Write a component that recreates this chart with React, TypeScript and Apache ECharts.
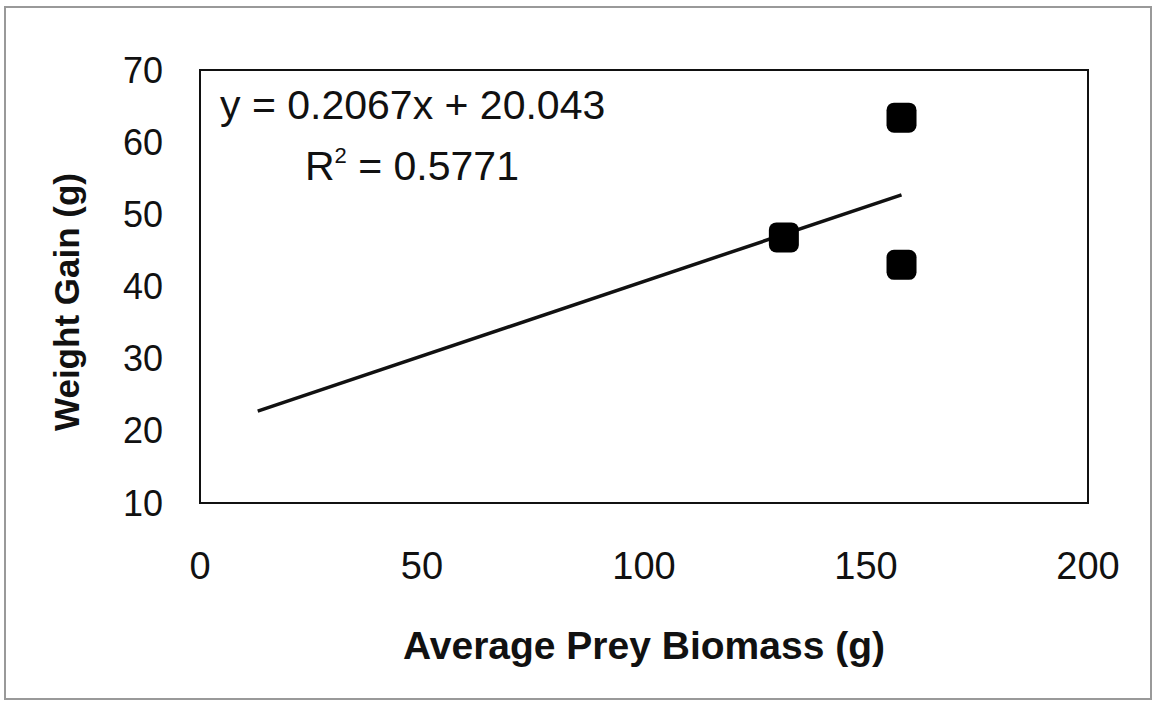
import React, { useEffect, useRef } from "react";
import * as echarts from "echarts";

const points: [number, number][] = [
  [131.5, 46.8],
  [158, 63.4],
  [158, 43.0],
];
const trendSlope = 0.2067;
const trendIntercept = 20.043;
const trendXRange = [13, 158];
const xTicks = { min: 0, max: 200, interval: 50 };
const yTicks = { min: 10, max: 70, interval: 10 };
const xTitle = "Average Prey Biomass (g)";
const yTitle = "Weight Gain (g)";
const equationText = "y = 0.2067x + 20.043";
const r2Text = "R{sup|2} = 0.5771";

export default function App() {
  const ref = useRef<HTMLDivElement>(null);
  useEffect(() => {
    if (!ref.current) return;
    const chart = echarts.init(ref.current, null, { renderer: "svg" });
    const trend = trendXRange.map((x) => [x, trendIntercept + trendSlope * x]);
    const font = "'Liberation Sans', Arial, sans-serif";
    chart.setOption({
      animation: false,
      backgroundColor: "#ffffff",
      grid: { left: 200, top: 70, width: 888, height: 433, show: true, borderColor: "#111", borderWidth: 2, backgroundColor: "transparent" },
      xAxis: {
        type: "value",
        min: xTicks.min,
        max: xTicks.max,
        interval: xTicks.interval,
        name: xTitle,
        nameLocation: "middle",
        nameGap: 123,
        nameTextStyle: { fontFamily: font, fontSize: 39, fontWeight: "bold", color: "#111" },
        axisLine: { show: false },
        axisTick: { show: false },
        splitLine: { show: false },
        axisLabel: { fontFamily: font, fontSize: 38, color: "#111", margin: 44 },
      },
      yAxis: {
        type: "value",
        min: yTicks.min,
        max: yTicks.max,
        interval: yTicks.interval,
        axisLine: { show: false },
        axisTick: { show: false },
        splitLine: { show: false },
        axisLabel: { fontFamily: font, fontSize: 36, color: "#111", margin: 37 },
      },
      graphic: [
        {
          type: "rect",
          shape: { x: 5, y: 7, width: 1146, height: 692 },
          style: { fill: "none", stroke: "#999", lineWidth: 2 },
          silent: true,
        },
        {
          type: "text",
          x: 66,
          y: 302,
          rotation: Math.PI / 2,
          style: {
            text: yTitle,
            font: `bold 35px ${font}`,
            fill: "#111",
            align: "center",
            verticalAlign: "middle",
          },
        },
        {
          type: "text",
          left: 220,
          top: 84,
          style: { text: equationText, font: `41px ${font}`, fill: "#111" },
        },
        {
          type: "text",
          left: 305,
          top: 144,
          style: {
            text: r2Text,
            font: `41px ${font}`,
            fill: "#111",
            rich: { sup: { fontSize: 22, verticalAlign: "top", padding: [0, 0, 22, 0], fontFamily: font, fill: "#111" } },
          } as any,
        },
      ],
      series: [
        {
          type: "line",
          data: trend,
          showSymbol: false,
          symbol: "none",
          lineStyle: { color: "#111", width: 3.5 },
          z: 2,
        },
        {
          type: "scatter",
          data: points,
          symbol: "roundRect",
          symbolSize: 30,
          itemStyle: { color: "#000", opacity: 1 },
          z: 3,
        },
      ],
    });
    return () => chart.dispose();
  }, []);
  return <div ref={ref} style={{ position: "fixed", left: 0, top: 0, width: 1154, height: 703 }} />;
}
